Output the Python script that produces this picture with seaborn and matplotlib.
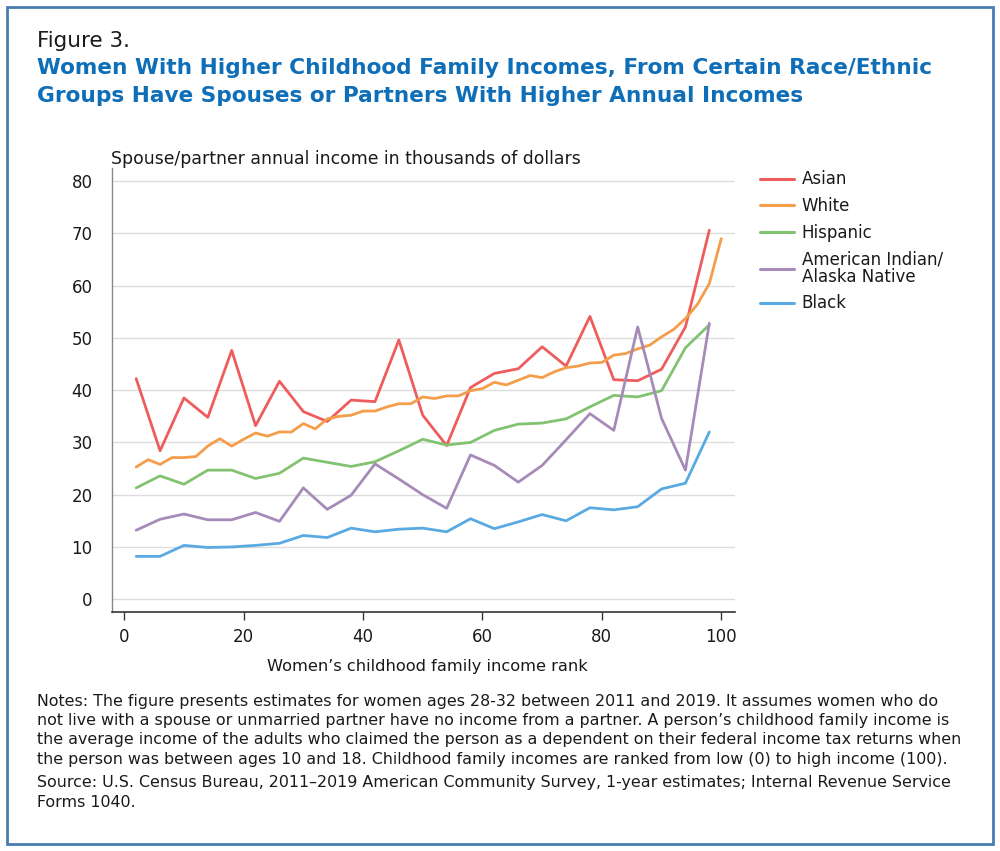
import pandas as pd
import seaborn as sns
from matplotlib import pyplot as plt
from matplotlib import patches

# childhood family income rank (x) for each series
rank_step4 = [2, 6, 10, 14, 18, 22, 26, 30, 34, 38, 42, 46, 50,
              54, 58, 62, 66, 70, 74, 78, 82, 86, 90, 94, 98]
rank_step2 = [2, 4, 6, 8, 10, 12, 14, 16, 18, 20, 22, 24, 26, 28, 30, 32, 34,
              36, 38, 40, 42, 44, 46, 48, 50, 52, 54, 56, 58, 60, 62, 64, 66,
              68, 70, 72, 74, 76, 78, 80, 82, 84, 86, 88, 90, 92, 94, 96, 98, 100]

# spouse/partner annual income, thousands of dollars
asian = [42.2, 28.4, 38.5, 34.8, 47.6, 33.2, 41.7, 35.9, 34.0, 38.1, 37.8, 49.6, 35.2,
         29.4, 40.5, 43.2, 44.1, 48.3, 44.6, 54.1, 42.0, 41.8, 44.0, 52.1, 70.6]
white = [25.3, 26.7, 25.8, 27.1, 27.1, 27.3, 29.3, 30.7, 29.3, 30.6,
         31.8, 31.2, 32.0, 32.0, 33.6, 32.6, 34.5, 35.0, 35.2, 36.0,
         36.0, 36.8, 37.4, 37.4, 38.7, 38.4, 38.9, 38.9, 39.9, 40.3,
         41.5, 41.0, 41.9, 42.8, 42.4, 43.5, 44.3, 44.6, 45.2, 45.3,
         46.7, 47.0, 47.9, 48.6, 50.2, 51.6, 53.7, 56.4, 60.4, 69.0]
hispanic = [21.3, 23.6, 22.0, 24.7, 24.7, 23.1, 24.1, 27.0, 26.2, 25.4, 26.3, 28.4, 30.6,
            29.5, 30.0, 32.3, 33.5, 33.7, 34.5, 36.8, 39.0, 38.7, 39.9, 48.1, 52.5]
aian = [13.2, 15.3, 16.3, 15.2, 15.2, 16.6, 14.9, 21.3, 17.2, 19.9, 25.9, 23.0, 20.0,
        17.4, 27.6, 25.6, 22.4, 25.6, 30.5, 35.5, 32.3, 52.1, 34.6, 24.7, 52.8]
black = [8.2, 8.2, 10.3, 9.9, 10.0, 10.3, 10.7, 12.2, 11.8, 13.6, 12.9, 13.4, 13.6,
         12.9, 15.4, 13.5, 14.8, 16.2, 15.0, 17.5, 17.1, 17.7, 21.1, 22.2, 32.0]

groups = ["Asian", "White", "Hispanic", "American Indian/\nAlaska Native", "Black"]
colors = ["#ee5d5d", "#f49d4b", "#82c271", "#a68bb8", "#5aaae2"]

notes = [
    "Notes: The figure presents estimates for women ages 28-32 between 2011 and 2019. It assumes women who do",
    "not live with a spouse or unmarried partner have no income from a partner. A person\u2019s childhood family income is",
    "the average income of the adults who claimed the person as a dependent on their federal income tax returns when",
    "the person was between ages 10 and 18. Childhood family incomes are ranked from low (0) to high income (100).",
    "Source: U.S. Census Bureau, 2011\u20132019 American Community Survey, 1-year estimates; Internal Revenue Service",
    "Forms 1040.",
]
notes_y = [705.7, 725.0, 744.3, 764.0, 787.3, 806.7]

frames = []
for name, xs, ys in zip(groups, [rank_step4, rank_step2, rank_step4, rank_step4, rank_step4],
                        [asian, white, hispanic, aian, black]):
    frames.append(pd.DataFrame({"rank": xs, "income": ys, "group": name}))
df = pd.concat(frames, ignore_index=True)

sns.set_theme(style="white")
plt.rcParams["font.family"] = ["DejaVu Sans"]
text_color = "#1a1a1a"

W, H = 1000, 851
fig = plt.figure(figsize=(W / 100, H / 100), dpi=100)
ax = fig.add_axes([112 / W, 1 - 612.3 / H, (735 - 112) / W, (612.3 - 168) / H])

sns.lineplot(data=df, x="rank", y="income", hue="group", hue_order=groups,
             palette=colors, linewidth=2, ax=ax)

handles, labels = ax.get_legend_handles_labels()
ax.get_legend().remove()

ax.set_xlim(-2.05, 102.3)
ax.set_ylim(-2.5, 82.5)
ax.set_xticks([0, 20, 40, 60, 80, 100])
ax.set_yticks([0, 10, 20, 30, 40, 50, 60, 70, 80])
ax.set_xlabel("")
ax.set_ylabel("")
ax.yaxis.grid(True, color="#dddddd", linewidth=1)
ax.xaxis.grid(False)
ax.set_axisbelow(True)
ax.tick_params(axis="x", length=6, width=1, color="#333333", pad=5,
               labelsize=12, labelcolor=text_color, bottom=True)
ax.tick_params(axis="y", length=0, pad=14, labelsize=12, labelcolor=text_color)
for side in ["top", "right"]:
    ax.spines[side].set_visible(False)
ax.spines["left"].set_color("#888888")
ax.spines["left"].set_linewidth(1)
ax.spines["bottom"].set_color("#333333")
ax.spines["bottom"].set_linewidth(1.2)

for h in handles:
    h.set_linewidth(2.2)
leg = fig.legend(handles, labels, loc="upper left", bbox_to_anchor=(760 / W, 1 - 170.5 / H),
                 frameon=False, borderpad=0, borderaxespad=0, fontsize=12,
                 handlelength=2.05, handletextpad=0.45, labelspacing=0.52,
                 labelcolor=text_color)
for t in leg.get_texts():
    t.set_linespacing(0.95)

fig.text(37 / W, 1 - 46.7 / H, "Figure 3.", fontsize=15.5, color=text_color, va="baseline")
fig.text(37 / W, 1 - 74 / H,
         "Women With Higher Childhood Family Incomes, From Certain Race/Ethnic",
         fontsize=15.6, fontweight="bold", color="#0e6eb8", va="baseline")
fig.text(37 / W, 1 - 102.5 / H,
         "Groups Have Spouses or Partners With Higher Annual Incomes",
         fontsize=15.6, fontweight="bold", color="#0e6eb8", va="baseline")
fig.text(111 / W, 1 - 164 / H, "Spouse/partner annual income in thousands of dollars",
         fontsize=12.4, color=text_color, va="baseline")
fig.text(427 / W, 1 - 670.7 / H, "Women\u2019s childhood family income rank",
         fontsize=11.7, color=text_color, va="baseline", ha="center")
for line, y in zip(notes, notes_y):
    fig.text(37 / W, 1 - y / H, line, fontsize=11.4, color=text_color, va="baseline")

fig.patches.append(patches.Rectangle((7 / W, 1 - 844 / H), (993 - 7) / W, (844 - 7) / H,
                                     transform=fig.transFigure, fill=False,
                                     edgecolor="#4a7bb1", linewidth=2))

fig.savefig("out.png", dpi=100)
